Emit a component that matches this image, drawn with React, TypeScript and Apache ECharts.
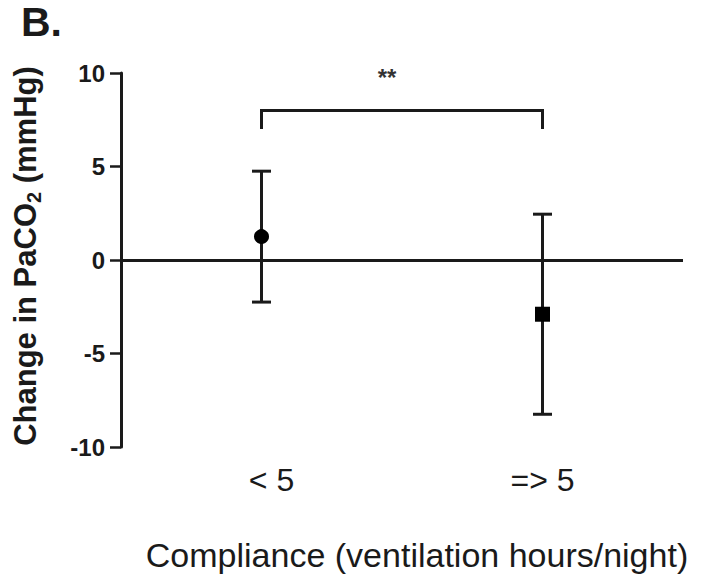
import React, { useEffect, useRef } from "react";
import * as echarts from "echarts";

// Compliance groups and change in PaCO2 (mean with error range), mmHg
const categories = ["< 5", "=> 5"];
const means = [1.25, -2.9];
const upper = [4.75, 2.45];
const lower = [-2.25, -8.25];
const markerShapes = ["circle", "rect"];

// Y axis range
const yMin = -10;
const yMax = 10;
const yInterval = 5;

// Significance bracket between the two groups
const bracketLevel = 8.0;
const bracketFoot = 7.0;
const starLevel = 10;
const significance = "**";

const INK = "#1a1a1a";
const FONT = "'Liberation Sans', Arial, Helvetica, sans-serif";

export default function App() {
  const ref = useRef<HTMLDivElement | null>(null);

  useEffect(() => {
    if (!ref.current) return;
    const chart = echarts.init(ref.current, undefined, { renderer: "svg" });

    const option: any = {
      animation: false,
      backgroundColor: "#ffffff",
      textStyle: { fontFamily: FONT, color: INK },
      grid: { left: 121, right: 19, top: 73, bottom: 133 },
      graphic: [
        {
          type: "text",
          left: 21,
          top: 1,
          style: {
            text: "B.",
            font: `bold 41px ${FONT}`,
            fill: INK,
          },
        },
      ],
      xAxis: {
        type: "category",
        data: categories,
        boundaryGap: true,
        axisLine: { show: false, onZero: false },
        axisTick: { show: false },
        splitLine: { show: false },
        axisLabel: {
          fontSize: 32,
          fontFamily: FONT,
          color: INK,
          margin: 17,
          formatter: (v: string, i: number) => (i === 0 ? `{first|${v}}` : v),
          rich: {
            first: {
              fontSize: 32,
              fontFamily: FONT,
              color: INK,
              padding: [0, 0, 0, 20],
            },
          },
        },
        name: "Compliance (ventilation hours/night)",
        nameLocation: "middle",
        nameGap: 91,
        nameTextStyle: {
          fontSize: 34,
          fontFamily: FONT,
          color: INK,
          padding: [0, 0, 0, 30],
        },
      },
      yAxis: {
        type: "value",
        min: yMin,
        max: yMax,
        interval: yInterval,
        axisLine: { show: true, lineStyle: { color: INK, width: 3 } },
        axisTick: { show: true, length: 11, lineStyle: { color: INK, width: 2.5 } },
        splitLine: { show: false },
        axisLabel: {
          fontSize: 24,
          fontWeight: "bold",
          fontFamily: FONT,
          color: INK,
          margin: 16,
        },
        name: "Change in PaCO{sub|2} (mmHg)",
        nameLocation: "middle",
        nameGap: 77,
        nameTextStyle: {
          fontSize: 31,
          fontWeight: "bold",
          fontFamily: FONT,
          color: INK,
          padding: [0, 0, 0, 8],
          rich: {
            sub: {
              fontSize: 20,
              fontWeight: "bold",
              fontFamily: FONT,
              color: INK,
              padding: [18, 0, 0, 0],
            },
          },
        },
      },
      series: [
        {
          type: "custom",
          name: "range",
          silent: true,
          z: 3,
          renderItem: (params: any, api: any) => {
            const x = api.value(0);
            const hi = api.coord([x, api.value(1)]);
            const lo = api.coord([x, api.value(2)]);
            const half = 9.5;
            const style = { stroke: INK, lineWidth: 3 };
            return {
              type: "group",
              children: [
                { type: "line", shape: { x1: hi[0], y1: hi[1], x2: lo[0], y2: lo[1] }, style },
                { type: "line", shape: { x1: hi[0] - half, y1: hi[1], x2: hi[0] + half, y2: hi[1] }, style },
                { type: "line", shape: { x1: lo[0] - half, y1: lo[1], x2: lo[0] + half, y2: lo[1] }, style },
              ],
            };
          },
          data: categories.map((_, i) => [i, upper[i], lower[i]]),
        },
        {
          type: "scatter",
          name: "mean",
          silent: true,
          z: 5,
          symbolSize: 15,
          itemStyle: { color: "#000000", opacity: 1 },
          data: means.map((v, i) => ({ value: [i, v], symbol: markerShapes[i] })),
          markLine: {
            silent: true,
            symbol: "none",
            label: { show: false },
            lineStyle: { color: INK, width: 3, type: "solid" },
            data: [{ yAxis: 0 }],
          },
        },
        {
          type: "custom",
          name: "bracket",
          silent: true,
          z: 4,
          renderItem: (params: any, api: any) => {
            const a = api.value(0);
            const b = api.value(1);
            const leftTop = api.coord([a, api.value(2)]);
            const rightTop = api.coord([b, api.value(2)]);
            const foot = api.coord([a, api.value(3)])[1];
            const starY = api.coord([a, api.value(4)])[1];
            const midX = (leftTop[0] + rightTop[0]) / 2;
            return {
              type: "group",
              children: [
                {
                  type: "polyline",
                  shape: {
                    points: [
                      [leftTop[0], foot],
                      [leftTop[0], leftTop[1]],
                      [rightTop[0], rightTop[1]],
                      [rightTop[0], foot],
                    ],
                  },
                  style: { stroke: INK, lineWidth: 3, fill: "none" },
                },
                {
                  type: "text",
                  x: midX - 15,
                  y: starY + 4,
                  style: {
                    text: significance,
                    font: `bold 24px ${FONT}`,
                    fill: "#333333",
                    align: "center",
                    verticalAlign: "middle",
                  },
                },
              ],
            };
          },
          data: [[0, 1, bracketLevel, bracketFoot, starLevel]],
        },
      ],
    };

    chart.setOption(option);
    return () => chart.dispose();
  }, []);

  return (
    <div
      ref={ref}
      style={{ position: "absolute", left: 0, top: 0, width: 702, height: 580 }}
    />
  );
}
